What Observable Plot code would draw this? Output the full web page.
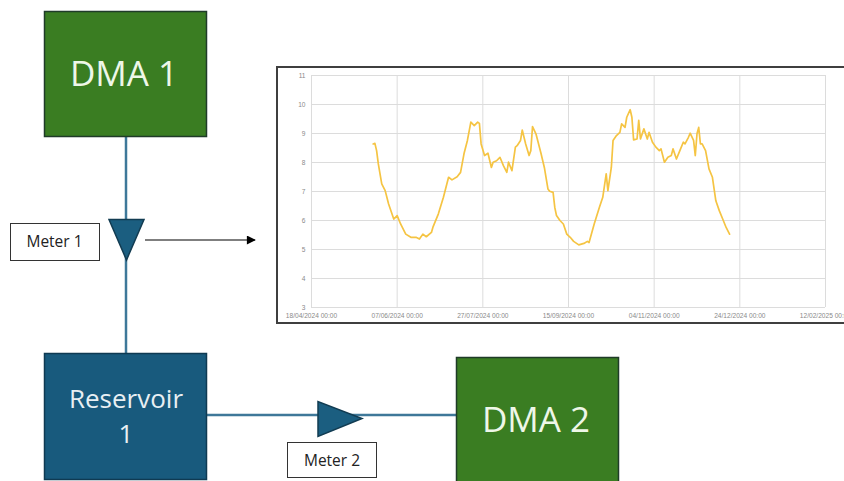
<!DOCTYPE html>
<html>
<head>
<meta charset="utf-8">
<script src="https://cdn.jsdelivr.net/npm/d3@7"></script>
<script src="https://cdn.jsdelivr.net/npm/@observablehq/plot@0.6"></script>
<style>
  html, body { margin: 0; padding: 0; background: #fff; }
  body { width: 844px; height: 481px; overflow: hidden; position: relative; }
  #diagram { position: absolute; left: 0; top: 0; }
  #frame { position: absolute; left: 276px; top: 66px; width: 620px; height: 258px;
           box-sizing: border-box; border: 2px solid #3f3f3f; background: #fff; overflow: hidden; }
  #chart { position: absolute; left: 0; top: 0; }
</style>
</head>
<body>
<svg id="diagram" width="844" height="481" xmlns="http://www.w3.org/2000/svg">
  <defs>
    <marker id="ah" viewBox="0 0 10 10" refX="9" refY="5" markerWidth="10" markerHeight="9" markerUnits="userSpaceOnUse" orient="auto">
      <path d="M0,0 L10,5 L0,10 z" fill="#000"/>
    </marker>
  </defs>
  <!-- pipes -->
  <line x1="126" y1="137" x2="126" y2="353" stroke="#3e7899" stroke-width="2.5"/>
  <line x1="207" y1="415" x2="456" y2="415" stroke="#3e7899" stroke-width="2.5"/>
  <!-- DMA 1 -->
  <rect x="44.5" y="11.5" width="162" height="125" fill="#3a7d22" stroke="#1f3b28" stroke-width="1.5"/>
  <text x="124" y="86" text-anchor="middle" font-family="Open Sans" font-size="35" fill="#eef7e8">DMA 1</text>
  <!-- Meter 1 -->
  <polygon points="109,219.5 144,219.5 126.5,260" fill="#1b5e80" stroke="#123c52" stroke-width="1.5"/>
  <rect x="10.5" y="223.5" width="89" height="37" fill="#fff" stroke="#333" stroke-width="1"/>
  <text x="54.5" y="247" text-anchor="middle" font-family="Open Sans" font-size="15.5" fill="#222">Meter 1</text>
  <line x1="145" y1="240" x2="255" y2="240" stroke="#000" stroke-width="1.2" marker-end="url(#ah)"/>
  <!-- Reservoir 1 -->
  <rect x="44.5" y="353.5" width="162" height="126" fill="#185a7d" stroke="#0f3a52" stroke-width="1.5"/>
  <text x="126" y="408" text-anchor="middle" font-family="Open Sans" font-size="26" fill="#e8eff3">Reservoir</text>
  <text x="126" y="443" text-anchor="middle" font-family="Open Sans" font-size="26" fill="#e8eff3">1</text>
  <!-- Meter 2 -->
  <polygon points="318,401.5 318,436.5 362,418.5" fill="#1b5e80" stroke="#123c52" stroke-width="1.5"/>
  <rect x="287.5" y="442.5" width="89" height="35" fill="#fff" stroke="#333" stroke-width="1"/>
  <text x="332" y="466" text-anchor="middle" font-family="Open Sans" font-size="15.5" fill="#222">Meter 2</text>
  <!-- DMA 2 -->
  <rect x="456.5" y="357.5" width="162" height="135" fill="#3a7d22" stroke="#1f3b28" stroke-width="1.5"/>
  <text x="536" y="432" text-anchor="middle" font-family="Open Sans" font-size="35" fill="#eef7e8">DMA 2</text>
</svg>
<div id="frame"><div id="chart"></div></div>
<script>
// Meter 1 flow readings
const dates = [
  "2024-05-24","2024-05-25","2024-05-26","2024-05-27","2024-05-29","2024-05-31",
  "2024-06-02","2024-06-05","2024-06-07","2024-06-09","2024-06-12","2024-06-15",
  "2024-06-18","2024-06-20","2024-06-22","2024-06-24","2024-06-27","2024-06-28",
  "2024-07-01","2024-07-04","2024-07-07","2024-07-09","2024-07-12","2024-07-14",
  "2024-07-16","2024-07-18","2024-07-20","2024-07-22","2024-07-24","2024-07-25",
  "2024-07-26","2024-07-28","2024-07-30","2024-08-01","2024-08-02","2024-08-04",
  "2024-08-06","2024-08-08","2024-08-10","2024-08-11","2024-08-13","2024-08-15",
  "2024-08-16","2024-08-18","2024-08-19","2024-08-21","2024-08-23","2024-08-24",
  "2024-08-25","2024-08-27","2024-08-30","2024-09-01","2024-09-03","2024-09-04",
  "2024-09-06","2024-09-07","2024-09-08","2024-09-10","2024-09-12","2024-09-14",
  "2024-09-16","2024-09-18","2024-09-21","2024-09-24","2024-09-26","2024-09-27",
  "2024-09-30","2024-10-03","2024-10-05","2024-10-07","2024-10-08","2024-10-10",
  "2024-10-11","2024-10-13","2024-10-15","2024-10-16","2024-10-18","2024-10-19",
  "2024-10-21","2024-10-22","2024-10-23","2024-10-25","2024-10-26","2024-10-27",
  "2024-10-29","2024-10-31","2024-11-01","2024-11-03","2024-11-05","2024-11-07",
  "2024-11-08","2024-11-10","2024-11-12","2024-11-14","2024-11-15","2024-11-17",
  "2024-11-19","2024-11-21","2024-11-22","2024-11-24","2024-11-25","2024-11-27",
  "2024-11-28","2024-11-29","2024-11-30","2024-12-01","2024-12-02","2024-12-04",
  "2024-12-06","2024-12-08","2024-12-10","2024-12-12","2024-12-14","2024-12-16",
  "2024-12-18"
];
const values = [
  8.64, 8.66, 8.41, 7.95, 7.26, 7.03,
  6.57, 6.05, 6.17, 5.88, 5.53, 5.42,
  5.42, 5.36, 5.53, 5.44, 5.59, 5.79,
  6.22, 6.80, 7.49, 7.40, 7.51, 7.66,
  8.30, 8.76, 9.39, 9.27, 9.39, 9.35,
  8.64, 8.24, 8.32, 7.83, 8.01, 8.06,
  8.18, 7.89, 7.66, 8.01, 7.72, 8.53,
  8.58, 8.76, 9.12, 8.64, 8.24, 8.41,
  9.24, 8.99, 8.30, 7.80, 7.09, 7.01,
  6.97, 6.45, 6.17, 6.00, 5.88, 5.53,
  5.42, 5.28, 5.16, 5.21, 5.28, 5.24,
  5.88, 6.45, 6.80, 7.61, 7.03, 7.83,
  8.76, 8.93, 9.04, 9.33, 9.21, 9.56,
  9.82, 9.56, 8.78, 8.81, 9.45, 8.81,
  9.16, 8.81, 9.04, 8.70, 8.53, 8.41,
  8.47, 8.01, 8.18, 8.24, 8.47, 8.12,
  8.41, 8.70, 8.64, 8.87, 9.01, 8.76,
  8.24, 8.99, 9.21, 8.64, 8.64, 8.41,
  7.78, 7.49, 6.68, 6.34, 6.05, 5.76,
  5.53
];
const xTickDates = ["2024-04-18","2024-06-07","2024-07-27","2024-09-15","2024-11-04","2024-12-24","2025-02-12"];
const yTicks = [3, 4, 5, 6, 7, 8, 9, 10, 11];

const data = dates.map((d, i) => ({date: new Date(d), value: values[i]}));
const xTicks = xTickDates.map(d => new Date(d));
const fmt = d3.utcFormat("%d/%m/%Y %H:%M");

const chart = Plot.plot({
  width: 590,
  height: 254,
  marginLeft: 33,
  marginRight: 43,
  marginTop: 7,
  marginBottom: 15,
  style: {fontFamily: "Liberation Sans", fontSize: "6.6px", color: "#8a8a8a", background: "transparent", overflow: "visible", maxWidth: "none"},
  x: {type: "utc", domain: [xTicks[0], xTicks[xTicks.length - 1]]},
  y: {domain: [3, 11]},
  marks: [
    Plot.gridX(xTicks, {stroke: "#dcdcdc", strokeOpacity: 1, strokeWidth: 1}),
    Plot.gridY(yTicks, {stroke: "#dcdcdc", strokeOpacity: 1, strokeWidth: 1}),
    Plot.axisX(xTicks, {tickSize: 0, tickPadding: 6, tickFormat: fmt, label: null}),
    Plot.axisY(yTicks, {tickSize: 0, tickPadding: 6, label: null}),
    Plot.line(data, {x: "date", y: "value", stroke: "#f5c443", strokeWidth: 1.7, strokeLinejoin: "round"})
  ]
});
document.getElementById("chart").appendChild(chart);
</script>
</body>
</html>
